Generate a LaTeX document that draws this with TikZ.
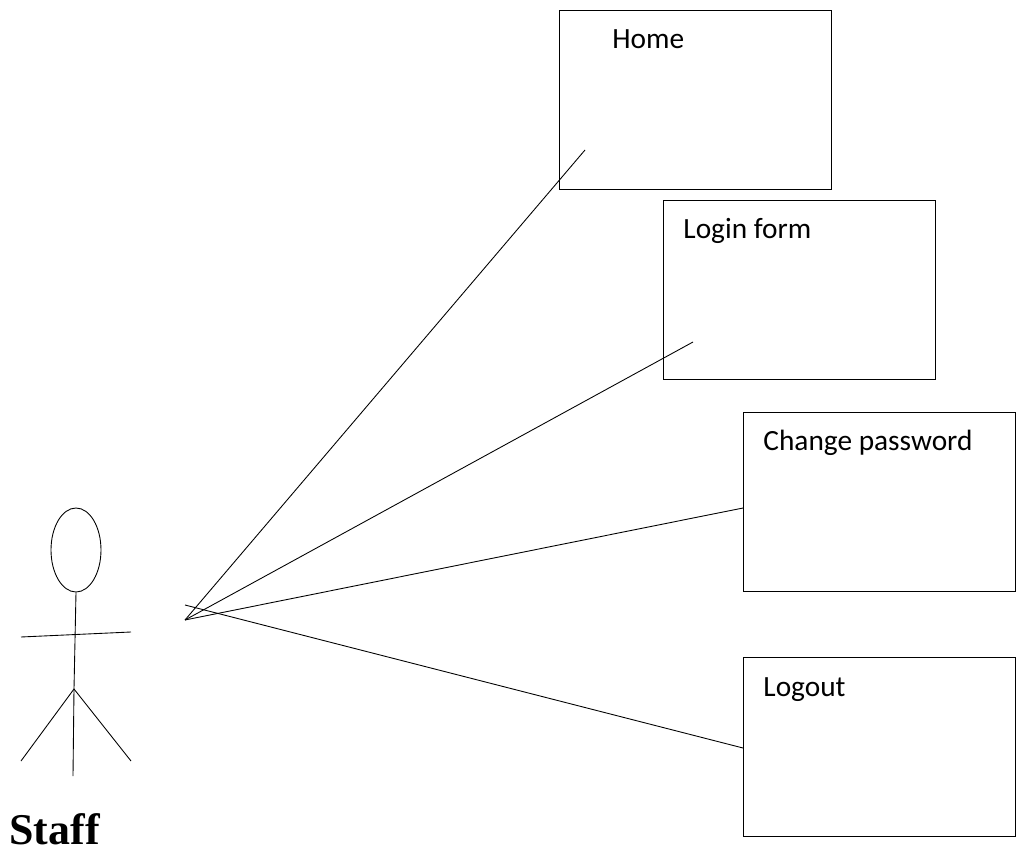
\documentclass[tikz,border=0pt]{standalone}
\usepackage{fontspec}
\setmainfont{Carlito}
\newfontfamily\stafffont{Liberation Serif}
\usetikzlibrary{shapes.geometric}

\begin{document}
\begin{tikzpicture}[x=0.02cm,y=-0.02cm,line width=0.5pt]
            \tikzset{
                screen/.style={draw,rectangle,minimum width=5.44cm,minimum height=3.58cm,anchor=north west},
                caption/.style={anchor=base west,inner sep=0pt,font=\fontsize{16.7}{20}\selectfont}
            }
            \useasboundingbox (0,0) rectangle (1017,854);
            \node[screen] (home)   at (559,10)  {};
            \node[screen] (login)  at (663,200) {};
            \node[screen] (change) at (743,412) {};
            \node[screen] (logout) at (743,657) {};
            \node[caption] (home_t)   at (612,49)  {Home};
            \node[caption] (login_t)  at (683,239) {Login form};
            \node[caption] (change_t) at (763,451) {Change password};
            \node[caption] (logout_t) at (763,696) {Logout};
            \node[draw,ellipse,minimum width=1cm,minimum height=1.68cm,inner sep=0pt] (head) at (76,550) {};
            \node[anchor=base west,inner sep=0pt,font=\stafffont\bfseries\fontsize{25}{30}\selectfont] (staff) at (9,844) {Staff};
            \coordinate (hip) at (74,689);
            \coordinate (foot_m) at (73,776);
            \coordinate (foot_l) at (21,761);
            \coordinate (foot_r) at (131,761);
            \coordinate (arm_l) at (21,637);
            \coordinate (arm_r) at (131,632);
            \coordinate (from_a) at (185,620);
            \coordinate (from_b) at (185,605);
            \coordinate (to_home) at (585,150);
            \coordinate (to_login) at (693,342);
            \coordinate (to_change) at (743,508);
            \coordinate (to_logout) at (743,748);
            \draw (head.south) -- (hip) -- (foot_m);
            \draw (arm_l) -- (arm_r);
            \draw (foot_l) -- (hip) -- (foot_r);
            \draw (from_a) -- (to_home);
            \draw (from_a) -- (to_login);
            \draw (from_a) -- (to_change);
            \draw (from_b) -- (to_logout);
        \end{tikzpicture}
\end{document}
